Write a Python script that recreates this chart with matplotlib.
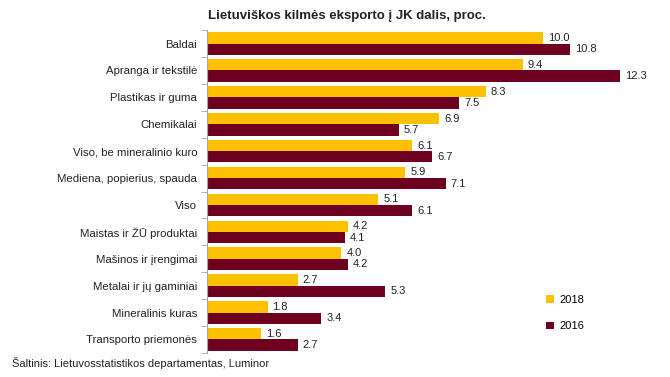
import matplotlib
matplotlib.use('Agg')
import matplotlib.pyplot as plt
import numpy as np

plt.rcParams['font.family'] = ['Liberation Sans', 'DejaVu Sans']

categories = ["Baldai", "Apranga ir tekstilė", "Plastikas ir guma", "Chemikalai",
              "Viso, be mineralinio kuro", "Mediena, popierius, spauda", "Viso",
              "Maistas ir ŽŪ produktai", "Mašinos ir įrengimai", "Metalai ir jų gaminiai",
              "Mineralinis kuras", "Transporto priemonės"]
v2018 = [10.0, 9.4, 8.3, 6.9, 6.1, 5.9, 5.1, 4.2, 4.0, 2.7, 1.8, 1.6]
v2016 = [10.8, 12.3, 7.5, 5.7, 6.7, 7.1, 6.1, 4.1, 4.2, 5.3, 3.4, 2.7]

c2018 = '#FFC000'
c2016 = '#6E0020'

fig = plt.figure(figsize=(6.7, 3.77), dpi=100)
ax = fig.add_axes([0.309, 0.064, 0.652, 0.856])

y = np.arange(len(categories))
h = 0.42
b1 = ax.barh(y - h / 2, v2018, height=h, color=c2018, label='2018')
b2 = ax.barh(y + h / 2, v2016, height=h, color=c2016, label='2016')

for bars, vals in ((b1, v2018), (b2, v2016)):
    for bar, v in zip(bars, vals):
        ax.text(bar.get_width() + 0.15, bar.get_y() + bar.get_height() / 2,
                f"{v:.1f}", va='center', ha='left', fontsize=8, color='#222222')

ax.set_xlim(0, 13)
ax.set_ylim(len(categories) - 0.5, -0.5)
ax.set_yticks(y)
ax.set_yticklabels(categories, fontsize=8.2, color='#222222')
ax.set_yticks(np.arange(-0.5, len(categories)), minor=True)
ax.tick_params(axis='y', which='major', length=0, pad=7)
ax.tick_params(axis='y', which='minor', length=4, color='#A6A6A6', direction='out')
ax.set_xticks([])
for s in ['top', 'right', 'bottom']:
    ax.spines[s].set_visible(False)
ax.spines['left'].set_color('#A6A6A6')

fig.text(0.518, 0.957, "Lietuviškos kilmės eksporto į JK dalis, proc.",
         ha='center', va='center', fontsize=9.5, fontweight='bold', color='#222222')

leg = fig.legend(handles=[b1, b2], labels=['2018', '2016'], loc='upper left',
                 bbox_to_anchor=(0.8, 0.245), frameon=False, fontsize=8,
                 handlelength=0.7, handleheight=0.7, labelspacing=1.5, handletextpad=0.5)

fig.text(0.018, 0.037, "Šaltinis: Lietuvosstatistikos departamentas, Luminor",
         ha='left', va='center', fontsize=8, color='#222222')

fig.savefig('out.png', dpi=100)
